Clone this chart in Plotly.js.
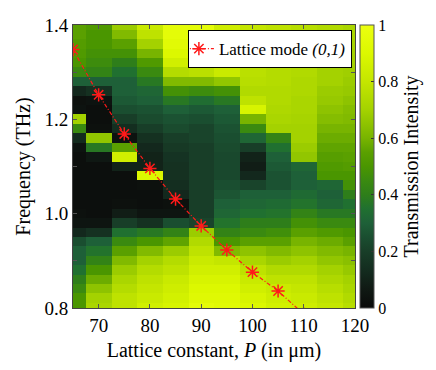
<!DOCTYPE html>
<html>
<head>
<meta charset="utf-8">
<script src="https://cdn.plot.ly/plotly-3.0.1.min.js"></script>
<style>
  body { margin: 0; background: #fff; }
  #chart { width: 436px; height: 370px; }
</style>
</head>
<body>
<div id="chart"></div>
<script>
// lattice constants (um), one heatmap column each
const latticeP = [65, 70, 75, 80, 85, 90, 95, 100, 105, 110, 115, 120];

// frequency rows (THz), top to bottom
const freqTHz = [1.40, 1.38, 1.36, 1.34, 1.32, 1.30, 1.28, 1.26, 1.24, 1.22, 1.20,
                 1.18, 1.16, 1.14, 1.12, 1.10, 1.08, 1.06, 1.04, 1.02, 1.00,
                 0.98, 0.96, 0.94, 0.92, 0.90, 0.88, 0.86, 0.84, 0.82, 0.80];

// transmission intensity per column, same order as freqTHz
const t65  = [.55,.55,.53,.52,.50,.45,.30,.12,.03,.04,.70,.45,.13,.04,.02,.02,.02,.02,.02,.02,.03,.05,.12,.25,.30,.30,.35,.40,.45,.50,.50];
const t70  = [.52,.50,.50,.48,.46,.42,.30,.15,.04,.02,.02,.03,.66,.38,.06,.02,.02,.02,.02,.02,.02,.05,.15,.30,.36,.42,.50,.58,.65,.70,.72];
const t75  = [.68,.62,.55,.48,.40,.35,.30,.30,.28,.25,.20,.14,.04,.55,.85,.10,.02,.02,.02,.03,.08,.20,.35,.45,.55,.62,.68,.72,.75,.78,.78];
const t80  = [.82,.78,.70,.60,.52,.45,.38,.32,.30,.26,.24,.20,.15,.12,.10,.10,.90,.03,.02,.02,.05,.15,.38,.50,.62,.70,.75,.78,.80,.82,.85];
const t85  = [.95,.95,.93,.90,.85,.75,.62,.48,.38,.30,.26,.24,.20,.18,.16,.15,.15,.14,.12,.03,.05,.25,.42,.56,.68,.75,.78,.82,.84,.86,.88];
const t90  = [.95,.95,.94,.92,.87,.77,.62,.46,.34,.28,.25,.22,.22,.20,.20,.20,.20,.20,.20,.20,.20,.22,.68,.74,.78,.82,.85,.88,.90,.92,.95];
const t95  = [.84,.86,.90,.95,.92,.82,.66,.48,.38,.30,.28,.26,.25,.24,.23,.23,.23,.25,.27,.30,.32,.36,.42,.50,.62,.80,.85,.88,.90,.92,.93];
const t100 = [.80,.80,.80,.79,.78,.77,.76,.74,.78,.88,.60,.45,.32,.20,.10,.08,.12,.22,.30,.32,.35,.40,.45,.55,.65,.72,.78,.82,.85,.88,.90];
const t105 = [.78,.78,.77,.76,.76,.75,.75,.74,.74,.73,.72,.70,.42,.35,.30,.28,.26,.26,.30,.33,.36,.40,.47,.55,.62,.68,.74,.78,.82,.84,.86];
const t110 = [.76,.76,.75,.75,.74,.74,.73,.73,.72,.72,.71,.70,.70,.68,.66,.32,.30,.30,.33,.36,.42,.48,.55,.60,.65,.70,.74,.78,.80,.82,.84];
const t115 = [.74,.74,.73,.72,.72,.70,.70,.68,.67,.65,.63,.60,.58,.56,.54,.52,.50,.32,.30,.32,.38,.45,.52,.58,.62,.66,.70,.73,.76,.78,.80];
const t120 = [.72,.72,.71,.70,.70,.69,.68,.67,.65,.63,.62,.60,.58,.56,.55,.53,.50,.48,.40,.35,.38,.45,.50,.55,.60,.64,.67,.70,.72,.74,.76];

// lattice mode (0,1)
const modeP = [65, 70, 75, 80, 85, 90, 95, 100, 105, 110];
const modeF = [1.348, 1.252, 1.169, 1.096, 1.031, 0.974, 0.923, 0.876, 0.836, 0.787];

const cols = [t65, t70, t75, t80, t85, t90, t95, t100, t105, t110, t115, t120];
// build ascending rows for the heatmap
const yAsc = freqTHz.slice().reverse();
const z = yAsc.map((f, k) => {
  const i = freqTHz.length - 1 - k;
  return cols.map(c => c[i]);
});

const serif = "'Liberation Serif', 'Times New Roman', serif";

const heat = {
  type: 'heatmap',
  x: latticeP,
  y: yAsc,
  z: z,
  zmin: 0, zmax: 1,
  showlegend: false,
  hoverinfo: 'skip',
  colorscale: [
    [0, '#0a0a0a'], [0.07, '#101a14'], [0.14, '#142e20'], [0.2, '#183e28'],
    [0.25, '#1a4e30'], [0.3, '#1e6038'], [0.35, '#207030'], [0.4, '#2e7e1a'],
    [0.45, '#3a8a10'], [0.5, '#4a9600'], [0.55, '#5aa000'], [0.6, '#78b400'],
    [0.7, '#a4d200'], [0.8, '#c4e600'], [0.9, '#dcf800'], [1, '#ecff10']
  ],
  colorbar: {
    x: 1.0176, xanchor: 'left', xref: 'paper', xpad: 0,
    y: 0.5, yanchor: 'middle', ypad: 0, len: 1, lenmode: 'fraction',
    thickness: 14,
    outlinewidth: 1, outlinecolor: '#555',
    tickvals: [0, 0.2, 0.4, 0.6, 0.8, 1],
    ticktext: ['0', '0.2', '0.4', '0.6', '0.8', '1'],
    ticks: 'inside', ticklen: 3, tickcolor: '#333',
    tickfont: { family: serif, size: 16, color: '#000' },
    title: { text: 'Transmission Intensity', side: 'right', font: { family: serif, size: 20, color: '#000' } }
  }
};

const mode = {
  type: 'scatter',
  mode: 'lines+markers',
  x: modeP,
  y: modeF,
  name: 'Lattice mode <i>(0,1)</i>',
  line: { color: '#ff1a1a', width: 1.2, dash: '4px,2px,1px,2px' },
  marker: { symbol: 'asterisk-open', size: 11, color: '#ff1a1a', line: { color: '#ff1a1a', width: 1.5 } }
};

const layout = {
  width: 436, height: 370,
  margin: { l: 73, r: 79, t: 25, b: 62 },
  paper_bgcolor: '#fff',
  plot_bgcolor: '#fff',
  showlegend: true,
  font: { family: serif, color: '#000' },
  xaxis: {
    range: [65, 120],
    tickvals: [70, 80, 90, 100, 110, 120],
    ticks: 'inside', ticklen: 4, tickcolor: '#555',
    showline: true, linecolor: '#444', linewidth: 1, mirror: 'ticks',
    showgrid: false, zeroline: false,
    tickfont: { family: serif, size: 19 },
    title: { text: 'Lattice constant, <i>P</i> (in μm)', font: { family: serif, size: 20 }, standoff: 8 }
  },
  yaxis: {
    range: [0.8, 1.4],
    tickvals: [0.8, 1.0, 1.2, 1.4],
    ticktext: ['0.8', '1.0', '1.2', '1.4'],
    ticks: 'inside', ticklen: 4, tickcolor: '#555',
    minor: { tickvals: [0.9, 1.1, 1.3], ticks: 'inside', ticklen: 4, tickcolor: '#555' },
    showline: true, linecolor: '#444', linewidth: 1, mirror: 'ticks',
    showgrid: false, zeroline: false,
    tickfont: { family: serif, size: 19 },
    title: { text: 'Frequency (THz)', font: { family: serif, size: 20 }, standoff: 8 }
  },
  legend: {
    x: 0.989, xanchor: 'right', y: 0.982, yanchor: 'top',
    bgcolor: '#fff', bordercolor: '#000', borderwidth: 1,
    font: { family: serif, size: 17 },
    itemwidth: 30, indentation: -10
  }
};

Plotly.newPlot('chart', [heat, mode], layout, { displayModeBar: false, staticPlot: true });
</script>
</body>
</html>
